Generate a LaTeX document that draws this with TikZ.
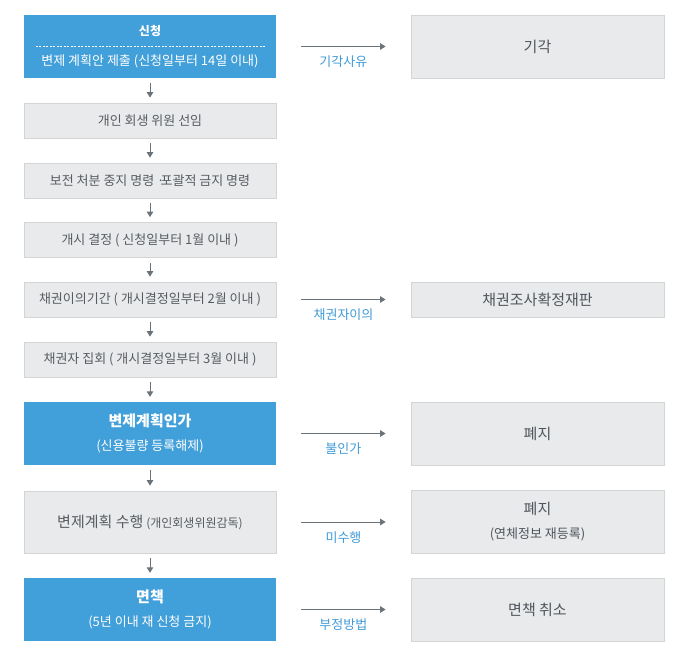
\documentclass[tikz,border=0pt]{standalone}
\usepackage{fontspec}
\setmainfont{Noto Sans CJK KR}
\usetikzlibrary{arrows.meta}

\definecolor{StepBlue}{HTML}{419FD9}
\definecolor{StepGray}{HTML}{E9EAEC}
\definecolor{StepEdge}{HTML}{D3D4D6}
\definecolor{FlowGray}{HTML}{6B737A}
\definecolor{StepText}{HTML}{575C61}
\definecolor{OutText}{HTML}{4E555B}
\definecolor{LabelBlue}{HTML}{3E9AD6}

\begin{document}
\begin{tikzpicture}[x=1pt, y=-1pt,
  graybox/.style={draw=StepEdge, line width=0.8pt, fill=StepGray, text=StepText,
    minimum width=252pt, minimum height=35pt, inner sep=0pt, align=center,
    font=\fontsize{13}{24}\selectfont},
  bluebox/.style={fill=StepBlue, text=white, minimum width=252pt, minimum height=63pt,
    inner sep=0pt, align=center, font=\fontsize{13}{24}\selectfont},
  outbox/.style={graybox, minimum width=253pt, text=OutText},
  flow/.style={draw=FlowGray, line width=0.9pt, -{Triangle[length=5.5pt,width=6.5pt]}},
  down/.style={flow, shorten <=5pt, shorten >=5pt},
  side/.style={flow, shorten <=25pt, shorten >=25pt},
  sidelabel/.style={below=9pt, inner sep=0pt, text=LabelBlue, font=\fontsize{13}{14}\selectfont}
]

\useasboundingbox (0,0) rectangle (682,664);

% left column
\node [bluebox, font=\fontsize{13}{30}\selectfont] (apply) at (150,46.5)
  {{\fontsize{12}{30}\selectfont\bfseries 신청}\\변제 계획안 제출 (신청일부터 14일 이내)};
\draw [white, line width=0.8pt, dash pattern=on 2pt off 1.5pt]
  ([xshift=12pt]apply.west) -- ([xshift=-11pt]apply.east);
\node [graybox] (member) at (150,120.5) {개인 회생 위원 선임};
\node [graybox] (stay) at (150,180.5) {보전 처분 중지 명령 ·\kern-0.3em 포괄적 금지 명령};
\node [graybox] (open) at (150,240) {개시 결정 ( 신청일부터 1월 이내 )};
\node [graybox] (objection) at (150,299.5) {채권이의기간 ( 개시결정일부터 2월 이내 )};
\node [graybox] (meeting) at (150,359.5) {채권자 집회 ( 개시결정일부터 3월 이내 )};
\node [bluebox] (approve) at (150,433.5)
  {{\fontsize{15}{24}\selectfont\bfseries 변제계획인가}\\(신용불량 등록해제)};
\node [graybox, minimum height=62pt] (perform) at (150,522)
  {{\fontsize{15}{24}\selectfont 변제계획 수행} {\fontsize{12}{24}\selectfont(개인회생위원감독)}};
\node [bluebox] (discharge) at (150,609.5)
  {{\fontsize{15}{24}\selectfont\bfseries 면책}\\(5년 이내 재 신청 금지)};

% right column
\node [outbox, minimum height=63pt, font=\fontsize{15}{24}\selectfont] (dismiss) at (537.5,46.5) {기각};
\node [outbox, font=\fontsize{15}{24}\selectfont] (review) at (537.5,299.5) {채권조사확정재판};
\node [outbox, minimum height=63pt, font=\fontsize{15}{24}\selectfont] (abolish) at (537.5,433.5) {폐지};
\node [outbox, minimum height=63pt] (reabolish) at (537.5,522)
  {{\fontsize{15}{24}\selectfont 폐지}\\(연체정보 재등록)};
\node [outbox, minimum height=63pt, font=\fontsize{15}{24}\selectfont] (revoke) at (537.5,609.5) {면책 취소};

% steps
\draw [down] (apply) -- (member);
\draw [down] (member) -- (stay);
\draw [down] (stay) -- (open);
\draw [down] (open) -- (objection);
\draw [down] (objection) -- (meeting);
\draw [down] (meeting) -- (approve);
\draw [down] (approve) -- (perform);
\draw [down] (perform) -- (discharge);

% outcomes
\draw [side] (apply) -- node [sidelabel] {기각사유} (dismiss);
\draw [side] (objection) -- node [sidelabel] {채권자이의} (review);
\draw [side] (approve) -- node [sidelabel] {불인가} (abolish);
\draw [side] (perform) -- node [sidelabel] {미수행} (reabolish);
\draw [side] (discharge) -- node [sidelabel] {부정방법} (revoke);

\end{tikzpicture}
\end{document}
